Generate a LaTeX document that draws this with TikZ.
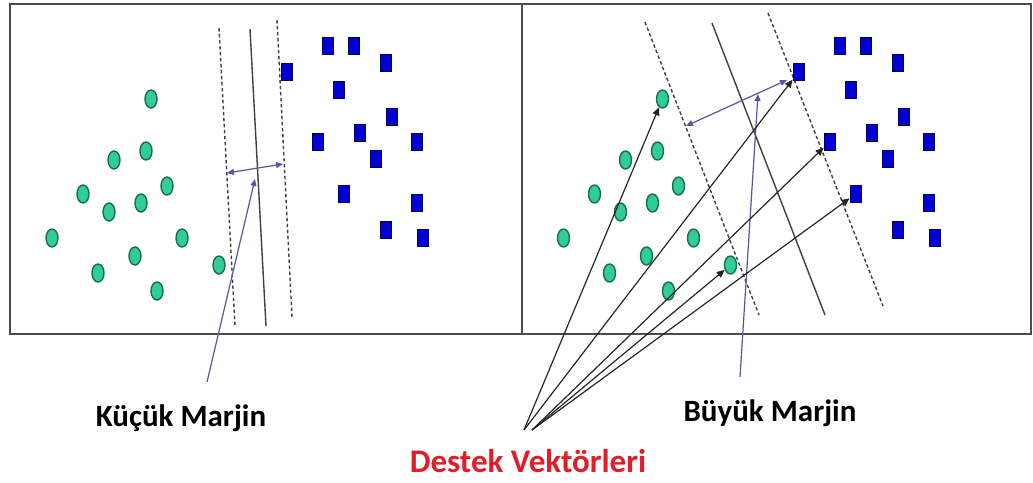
\documentclass[tikz,border=0pt]{standalone}
\usepackage{fontspec}
\setmainfont{Carlito}
\usetikzlibrary{arrows.meta,shapes.geometric}

\definecolor{dotgreen}{RGB}{48,206,150}
\definecolor{dotedge}{RGB}{25,110,75}
\definecolor{sqblue}{RGB}{0,0,210}
\definecolor{sqedge}{RGB}{0,0,90}
\definecolor{marginblue}{RGB}{85,85,170}
\definecolor{labelred}{RGB}{225,30,40}

\begin{document}
\begin{tikzpicture}[
    x=1pt, y=-1pt,
    dot/.style={ellipse, draw=dotedge, fill=dotgreen, line width=1.4pt, minimum width=12pt, minimum height=18pt, inner sep=0pt},
    sq/.style={rectangle, draw=sqedge, fill=sqblue, line width=0.8pt, minimum width=11pt, minimum height=17pt, inner sep=0pt},
    bound/.style={line width=1.4pt, draw=black!75},
    marg/.style={bound, dash pattern=on 3.5pt off 2.5pt},
    wid/.style={{Triangle[length=7pt,width=6pt]}-{Triangle[length=7pt,width=6pt]}, line width=1.2pt, marginblue},
    pointer/.style={-{Triangle[length=7pt,width=6pt]}, line width=1.2pt, marginblue},
    sv/.style={-{Triangle[length=8pt,width=7pt]}, line width=1.2pt, black!85},
    lbl/.style={font=\bfseries\fontsize{31}{31}\selectfont, anchor=base}
  ]
  \useasboundingbox (0,0) rectangle (1033,482);
  \draw[line width=2pt, black!70] (10,4) rectangle (1031,334);
  \draw[line width=2pt, black!70] (522,4) -- (522,334);

  \draw[marg] (219,28) -- (235,326);
  \draw[bound] (250,29) -- (266,326);
  \draw[marg] (277,20) -- (292,317);
  \draw[marg] (645,22) -- (759,315);
  \draw[bound] (712,23) -- (825,315);
  \draw[marg] (768,13) -- (883,306);

  \foreach \side/\dx in {L/0, R/511.5} {
    \foreach \px/\py [count=\i] in {151/99, 146/151, 114/160, 167/186, 83/194, 141/203, 109/212,
                                    52/238, 182/238, 135/256, 98/273, 157/291, 219/265}
      \node[dot] (\side-c\i) at (\px+\dx,\py) {};
    \foreach \px/\py [count=\i] in {287/72, 328/46, 354/46, 386/63, 339/90, 392/117, 360/133,
                                    318/142, 417/142, 376/159, 344/194, 417/203, 386/230, 423/238}
      \node[sq] (\side-s\i) at (\px+\dx,\py) {};
  }

  \coordinate (L-w1) at (227,173);
  \coordinate (L-w2) at (283,164);
  \coordinate (R-w1) at (686,126);
  \coordinate (R-w2) at (787,80);
  \draw[wid] (L-w1) -- (L-w2);
  \draw[wid] (R-w1) -- (R-w2);

  \node[lbl] (kucuk) at (181,426) {Küçük Marjin};
  \node[lbl] (buyuk) at (770,421) {Büyük Marjin};
  \node[lbl, text=labelred, font=\bfseries\fontsize{33}{33}\selectfont] (destek) at (528,472) {Destek Vektörleri};

  \coordinate (kucuk-end) at (207,382);
  \coordinate (kucuk-tip) at (255,179);
  \coordinate (buyuk-end) at (740,377);
  \coordinate (buyuk-tip) at (758,94);
  \draw[pointer] (kucuk-end) -- (kucuk-tip);
  \draw[pointer] (buyuk-end) -- (buyuk-tip);

  \coordinate (sv-a) at (524,430);
  \coordinate (sv-b) at (532,430);
  \draw[sv] (sv-a) -- (R-c1);
  \draw[sv] (sv-a) -- (R-s1);
  \draw[sv] (sv-b) -- (R-s8);
  \draw[sv] (sv-b) -- (R-c13);
  \draw[sv] (sv-b) -- (R-s11);
\end{tikzpicture}
\end{document}
